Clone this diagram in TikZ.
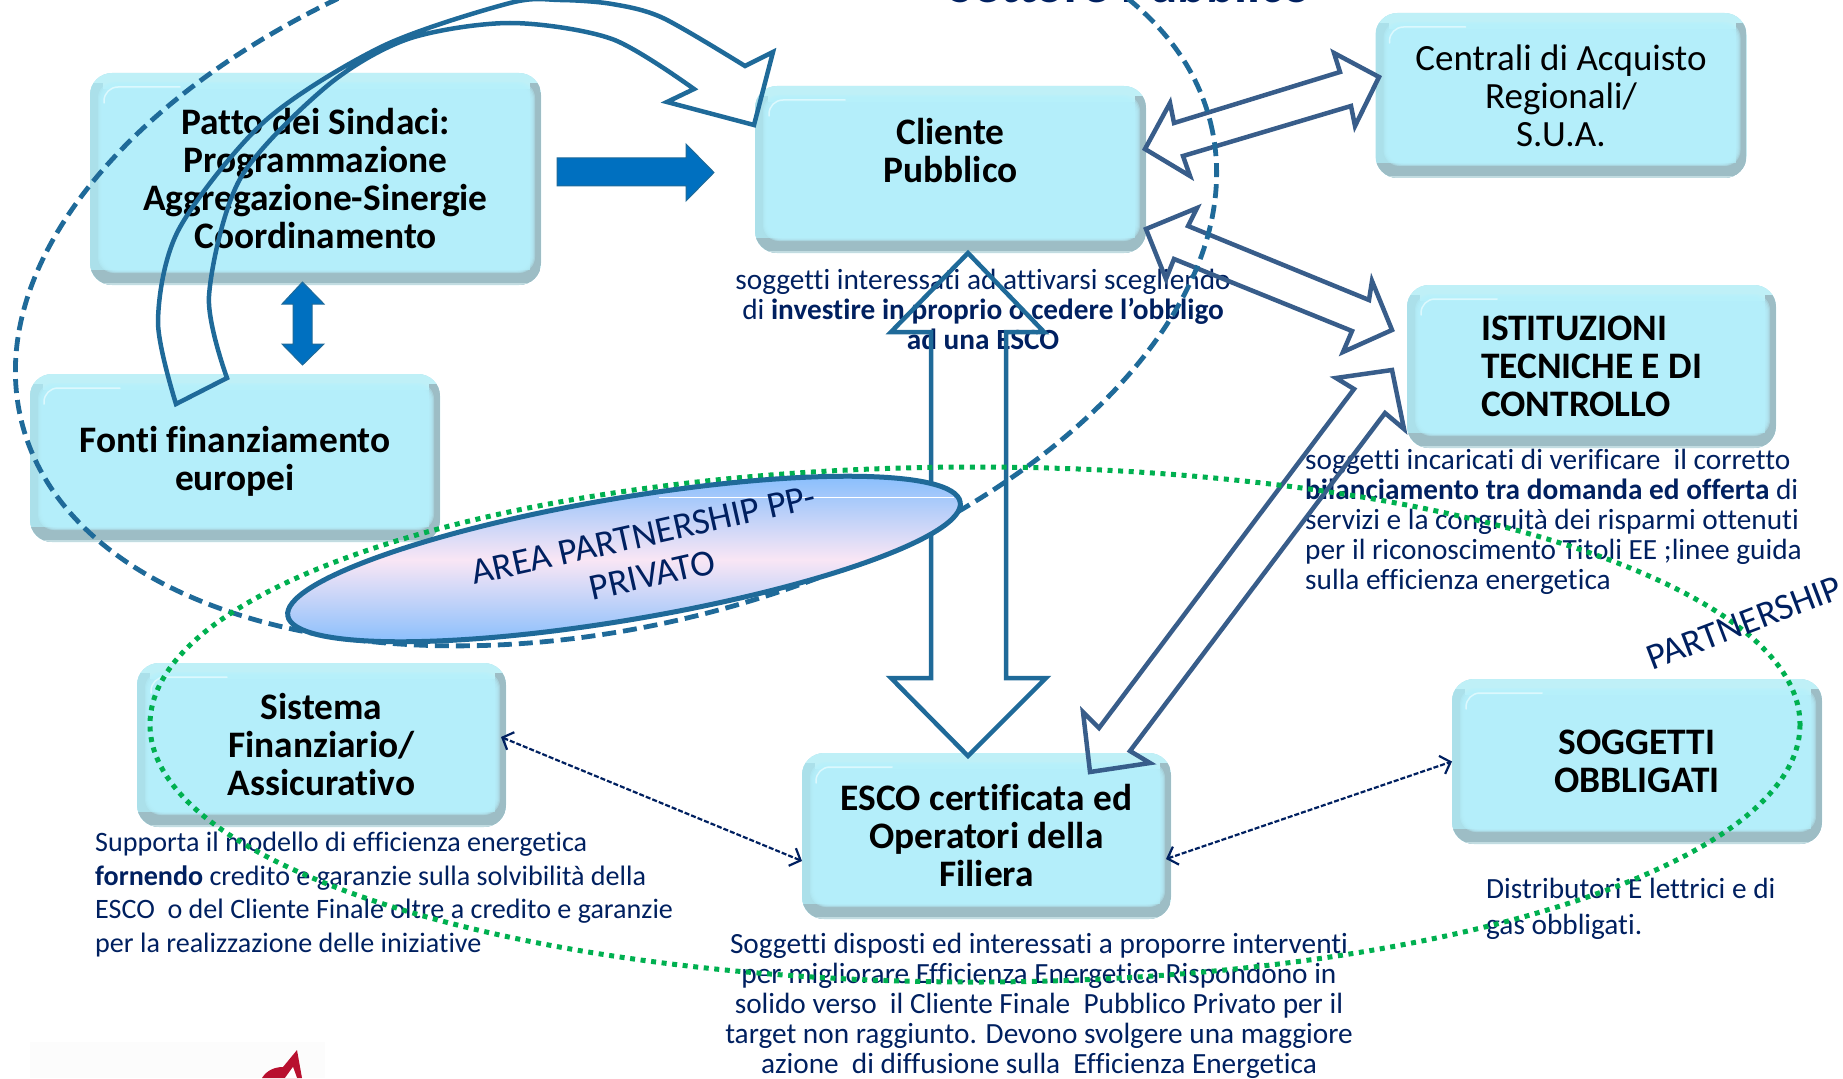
\documentclass[tikz,border=0pt]{standalone}
\usepackage{fontspec}
\setmainfont[Ligatures=NoCommon]{Carlito}
\usetikzlibrary{calc,arrows.meta}
\definecolor{bevelface}{HTML}{B6F0FC}
\definecolor{bevelleft}{HTML}{ABE0EA}
\definecolor{beveltop}{HTML}{BFF0F7}
\definecolor{bevelshade}{HTML}{9DBDC5}
\definecolor{bevelglow}{HTML}{E6FBFE}
\definecolor{navytext}{HTML}{002060}
\definecolor{lineblue}{HTML}{1F6A99}
\definecolor{arrowblue}{HTML}{385D8A}
\definecolor{solidblue}{HTML}{0070C0}
\definecolor{dotgreen}{HTML}{00B050}
\definecolor{areablue}{HTML}{7FBBFD}
\definecolor{areapink}{HTML}{F9E6F5}
\definecolor{logored}{HTML}{B8102F}
\tikzset{
  boxnode/.style={rounded corners=22pt, fill=bevelleft, inner sep=0pt, outer sep=0pt, align=center,
    text=black, font=\fontsize{37.4}{38}\selectfont\bfseries,
    path picture={
      \fill[beveltop, sharp corners] (path picture bounding box.north west) rectangle ([shift={(0pt,-16pt)}]path picture bounding box.north east);
      \fill[bevelleft, sharp corners] (path picture bounding box.south west) rectangle ([shift={(13pt,-10pt)}]path picture bounding box.north west);
      \fill[bevelshade, sharp corners] (path picture bounding box.south east) rectangle ([shift={(-11pt,-10pt)}]path picture bounding box.north east);
      \fill[bevelshade, sharp corners] (path picture bounding box.south west) rectangle ([shift={(0pt,15pt)}]path picture bounding box.south east);
      \fill[bevelglow!50!bevelshade, sharp corners] (path picture bounding box.south west) rectangle ([shift={(0pt,2pt)}]path picture bounding box.south east);
      \foreach \k in {0,1,2,3,4,5}
        \fill[bevelface, opacity=0.4, rounded corners=16pt] ([shift={(8pt+\k pt,12pt+0.6*\k pt)}]path picture bounding box.south west) rectangle ([shift={(-6pt-\k pt,-9pt-\k pt)}]path picture bounding box.north east);
      \draw[bevelglow, opacity=0.8, line width=1.5pt, rounded corners=14pt, line cap=round] ([shift={(14pt,-30pt)}]path picture bounding box.north west) -- ([shift={(14pt,-14pt)}]path picture bounding box.north west) -- ([shift={(90pt,-14pt)}]path picture bounding box.north west);
    }},
  desctext/.style={inner sep=0pt, text=navytext, font=\fontsize{29.3}{30}\selectfont, align=center},
  slanttext/.style={inner sep=0pt, text=navytext, font=\fontsize{37}{41}\selectfont, align=center},
  hollowarrow/.style={draw=arrowblue, line width=4.5pt, line join=miter, miter limit=6},
  tallarrow/.style={draw=lineblue, line width=4.5pt, line join=miter, miter limit=6},
  solidarrow/.style={fill=solidblue, draw=lineblue, line width=1pt},
  linkarrow/.style={draw=navytext, line width=2.2pt, dash pattern=on 5pt off 2pt, {Straight Barb[length=9pt,width=19pt,line width=2.2pt]}-{Straight Barb[length=9pt,width=19pt,line width=2.2pt]}},
  dashring/.style={draw=lineblue, line width=4.8pt, dash pattern=on 14pt off 7pt},
  dotring/.style={draw=dotgreen, line width=5pt, dash pattern=on 5pt off 5.6pt}
}
\begin{document}
\begin{tikzpicture}[x=1pt,y=-1pt]
  \useasboundingbox (0,0) rectangle (1843,1078);
  \fill[black!1] (30,1042) rectangle (325,1078);
  \node[boxnode, minimum width=451pt, minimum height=212pt] (patto) at (315.5,179) {Patto dei Sindaci:\\Programmazione\\Aggregazione-Sinergie\\Coordinamento};
  \node[boxnode, minimum width=410pt, minimum height=168pt, text depth=0pt] (fonti) at (235,458) {Fonti finanziamento\\europei};
  \node[boxnode, minimum width=391pt, minimum height=167pt] (cliente) at (950.5,169.5) {Cliente\\Pubblico\\~};
  \node[boxnode, minimum width=371pt, minimum height=165pt, font=\fontsize{37}{38}\selectfont] (centrali) at (1561,95.5) {Centrali di Acquisto\\Regionali/\\S.U.A.};
  \node[boxnode, minimum width=369pt, minimum height=163pt, align=left] (istituzioni) at (1591.5,366.5) {ISTITUZIONI\\TECNICHE E DI\\CONTROLLO};
  \node[boxnode, minimum width=369pt, minimum height=164pt] (sistema) at (321.5,745) {Sistema\\Finanziario/\\Assicurativo};
  \node[boxnode, minimum width=369pt, minimum height=166pt] (esco) at (986.5,836) {ESCO certificata ed\\Operatori della\\Filiera};
  \node[boxnode, minimum width=370pt, minimum height=165pt] (soggetti) at (1637,761.5) {SOGGETTI\\OBBLIGATI};

  \node[anchor=base, inner sep=0pt, text=navytext, font=\fontsize{53}{60}\selectfont\bfseries] (settore) at (1130,3) {Settore Pubblico};
  \node[desctext] (desccliente) at (983,309) {soggetti interessati ad attivarsi scegliendo\\di \textbf{investire in proprio o cedere l’obbligo}\\\textbf{ad una ESCO}};
  \node[desctext, align=left, anchor=north west] (descistituzioni) at (1305,449) {soggetti incaricati di verificare\ \ il corretto\\\textbf{bilanciamento tra domanda ed offerta} di\\servizi e la congruità dei risparmi ottenuti\\per il riconoscimento Titoli EE ;linee guida\\sulla efficienza energetica};
  \node[desctext, align=left, anchor=north west, font=\fontsize{28.1}{33.5}\selectfont] (descsistema) at (95,832) {Supporta il modello di efficienza energetica\\\textbf{fornendo} credito e garanzie sulla solvibilità della\\ESCO\ \ o del Cliente Finale oltre a credito e garanzie\\per la realizzazione delle iniziative};
  \node[desctext] (descesco) at (1039,1006) {Soggetti disposti ed interessati a proporre interventi\\per migliorare Efficienza Energetica Rispondono in\\solido verso\ \ il Cliente Finale\ \ Pubblico Privato per il\\target non raggiunto. Devono svolgere una maggiore\\azione\ \ di diffusione sulla\ \ Efficienza Energetica};
  \node[desctext, align=left, anchor=north west, font=\fontsize{29.3}{36}\selectfont] (descsoggetti) at (1486,878) {Distributori E lettrici e di\\gas obbligati.};

  \fill[logored] (262,1078) .. controls (267,1070) and (275,1067) .. (283,1067) -- (297,1050) -- (302,1078) -- cycle;
  \fill[white] (293,1067) -- (285,1078) -- (297,1078) -- cycle;

  \coordinate (curvestart) at (176,404);
  \coordinate (curvetip) at (754,125);
  \draw[tallarrow] (curvestart) -- plot[smooth] coordinates {(176,404) (158,321) (179,229) (265,121) (383,46) (510,3) (560,0) (612,4) (663,18) (745,66)}
    -- (773,52) -- (curvetip) -- (667,102) -- plot[smooth] coordinates {(694,89) (612,39) (510,23) (408,39) (327,86) (240,179) (209,296) (227,378)} -- cycle;

  \coordinate (pattotip) at (714,172.5);
  \draw[solidarrow] (557,158) -- (686,158) -- (686,144) -- (pattotip) -- (686,201) -- (686,186) -- (557,186) -- cycle;
  \coordinate (fontitip) at (302.5,365);
  \coordinate (pattobase) at (302.5,282);
  \draw[solidarrow] (pattobase) -- (324,304) -- (312,304) -- (312,344) -- (324,344) -- (fontitip) -- (282,344) -- (293,344) -- (293,304) -- (282,304) -- cycle;

  \coordinate (clientetip) at (968,253);
  \coordinate (escotip) at (968,756);
  \draw[tallarrow] (clientetip) -- (1044,332) -- (1006,332) -- (1006,678) -- (1046,678) -- (escotip) -- (891,678) -- (931,678) -- (931,332) -- (891,332) -- cycle;

  \coordinate (clientetipa) at (1145,149);
  \coordinate (centralitip) at (1379,77);
  \draw[hollowarrow] (clientetipa) -- (1170,103) -- (1174,123) -- (1340,72) -- (1334,53) -- (centralitip) -- (1355,126) -- (1351,106) -- (1183,156) -- (1190,176) -- cycle;
  \coordinate (clientetipb) at (1146,229);
  \coordinate (istituzionitipa) at (1392,330);
  \draw[hollowarrow] (clientetipb) -- (1197,208) -- (1188,226) -- (1369,300) -- (1372,281) -- (istituzionitipa) -- (1343,352) -- (1352,331) -- (1174,259) -- (1166,279) -- cycle;
  \coordinate (istituzionitipb) at (1392,370);
  \coordinate (escotipb) at (1090,772);
  \draw[hollowarrow] (istituzionitipb) -- (1336,378) -- (1354,389) -- (1099,728) -- (1083,712) -- (escotipb) -- (1150,763) -- (1130,751) -- (1385,413) -- (1404,429) -- cycle;

  \draw[linkarrow] ([yshift=8pt,xshift=-5pt]sistema.east) -- ([yshift=-25pt]esco.west);
  \draw[linkarrow] ([yshift=-23pt,xshift=-5pt]esco.east) -- (soggetti.west);

  \draw[dashring, rotate around={14.2:(616,272)}] (616,272) ellipse [x radius=613, y radius=353];
  \draw[dotring] (975,724.5) ellipse [x radius=825, y radius=257.5];
  \node[slanttext, rotate=20.8] (partnership) at (1744,623) {PARTNERSHIP};

  \shade[top color=areablue, bottom color=areablue, middle color=areapink, draw=lineblue, line width=5pt, rotate around={9.6:(624,559)}] (624,559) ellipse [x radius=341, y radius=61];
  \draw[white, line width=0.8pt] (659,497) -- (954,497);
  \node[slanttext, rotate=12.6] (areatext) at (648,555) {AREA PARTNERSHIP PP-\\PRIVATO};
\end{tikzpicture}
\end{document}
